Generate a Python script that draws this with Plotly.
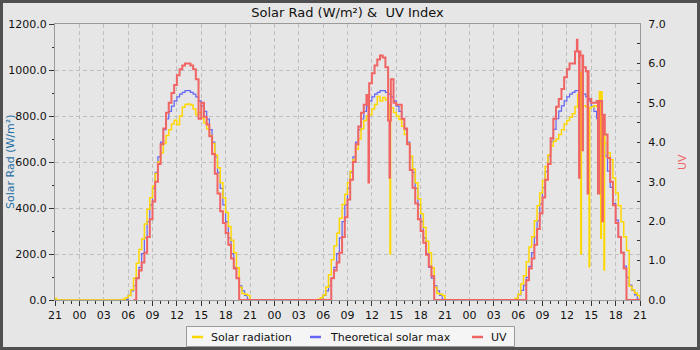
import plotly.graph_objects as go
import pandas as pd

# ---------------- data ----------------
RANGE_START = "2024-06-20 21:00"
RANGE_END = "2024-06-23 21:00"
DAYS = ["2024-06-21", "2024-06-22", "2024-06-23"]
STEP = "20min"
RAD_GRID_START = "05:20"   # first sample of each daylight list (solar + theoretical)
UV_GRID_START = "06:40"    # first sample of each UV list

THEO_DAY1 = [0, 3, 20, 40, 62, 95, 142, 202, 270, 341, 414, 485, 555, 622, 686, 741,
             787, 820, 843, 866, 883, 895, 903, 910, 910, 903, 895, 883, 866, 843, 820, 787,
             741, 686, 622, 555, 485, 414, 341, 270, 202, 142, 95, 62, 40, 20, 3, 0]
THEO_DAY2 = [0, 3, 20, 40, 62, 95, 142, 202, 270, 341, 414, 485, 555, 622, 686, 741,
             787, 820, 843, 866, 883, 895, 903, 910, 910, 903, 895, 883, 866, 843, 820, 787,
             741, 686, 622, 555, 485, 414, 341, 270, 202, 142, 95, 62, 40, 20, 3, 0]
THEO_DAY3 = [0, 4, 22, 42, 65, 98, 146, 206, 274, 345, 418, 489, 558, 625, 688, 742,
             788, 821, 844, 866, 883, 895, 903, 910, 910, 903, 895, 883, 866, 843, 820, 788,
             744, 690, 627, 560, 490, 419, 347, 276, 207, 147, 99, 65, 42, 22, 4, 0]

SOLAR_DAY1 = [3, 10, 20, 45, 95, 160, 220, 265, 330, 395, 445, 495, 550, 600, 640, 680,
              715, 740, 765, 782, 762, 800, 838, 850, 852, 848, 830, 805, 815, 790, 770, 745,
              715, 680, 630, 575, 510, 445, 380, 320, 260, 205, 140, 55, 28, 25, 20, 0]
SOLAR_DAY2 = [3, 10, 22, 55, 110, 175, 235, 290, 355, 415, 460, 510, 560, 610, 655, 700,
              745, 780, 800, 805, 830, 850, 885, 865, 880, 870, 850, 835, 815, 800, 785, 755,
              720, 680, 625, 570, 510, 440, 375, 315, 255, 205, 140, 55, 28, 25, 20, 0]
SOLAR_DAY3 = [0, 8, 25, 70, 105, 165, 230, 275, 345, 410, 465, 520, 580, 630, 670, 690,
              700, 720, 740, 765, 780, 795, 810, 840, 895, 990, 845, 840, 835, 840, 845, 840,
              905, 745, 680, 640, 610, 530, 465, 410, 340, 275, 215, 60, 45, 30, 20, 0]
SOLAR_LEAD = [("2024-06-20 21:00", 8), ("2024-06-20 21:10", 0)]
SOLAR_SPIKES = [("2024-06-22 14:14", 200), ("2024-06-23 13:43", 200),
                ("2024-06-23 14:44", 145), ("2024-06-23 16:10", 268),
                ("2024-06-23 16:34", 130)]

UV_DAY1 = [0, 0.55, 0.75, 0.95, 1.2, 1.6, 2.05, 2.5, 3.0, 3.45, 3.95, 4.35, 4.75, 5.0,
           5.25, 5.45, 5.7, 5.85, 5.95, 6.0, 6.0, 5.95, 5.85, 5.6, 4.6, 5.0, 4.65, 4.45,
           4.15, 3.7, 3.2, 2.7, 2.25, 1.95, 1.7, 1.4, 1.05, 0.8, 0.55, 0]
UV_DAY2 = [0, 0.55, 0.75, 0.95, 1.2, 1.6, 2.1, 2.55, 3.05, 3.5, 3.95, 4.4, 4.75, 4.95,
           5.2, 5.5, 5.75, 5.95, 6.1, 6.2, 6.15, 5.9, 4.55, 5.6, 5.0, 4.95, 4.95, 4.6,
           4.35, 3.95, 3.3, 2.85, 2.45, 2.05, 1.75, 1.45, 1.15, 0.85, 0.6, 0]
UV_DAY3 = [0, 0.5, 0.8, 1.05, 1.4, 1.8, 2.2, 2.6, 3.05, 3.45, 4.1, 4.6, 4.9, 5.1,
           5.35, 5.65, 5.85, 6.0, 6.0, 6.3, 6.3, 6.2, 5.9, 5.8, 5.1, 5.0, 5.0, 5.05,
           5.0, 4.7, 4.2, 3.6, 3.0, 2.4, 1.95, 1.6, 1.2, 0.8, 0, 0]
UV_SPIKES = [("2024-06-22 11:35", 2.98), ("2024-06-22 14:10", 3.1),
             ("2024-06-23 13:14", 6.6), ("2024-06-23 13:30", 3.1),
             ("2024-06-23 13:55", 3.8), ("2024-06-23 14:33", 2.7),
             ("2024-06-23 15:50", 2.7), ("2024-06-23 15:57", 2.7),
             ("2024-06-23 16:22", 2.0)]

SERIES_NAMES = ["Solar radiation", "Theoretical solar max", "UV"]
COLORS = {"Solar radiation": "#ffd700", "Theoretical solar max": "#6464f5", "UV": "#f06464"}


def build(day_lists, grid_start, lead=(), spikes=()):
    pts = {pd.Timestamp(t): v for t, v in lead}
    for d, vals in zip(DAYS, day_lists):
        times = pd.date_range(f"{d} {grid_start}", periods=len(vals), freq=STEP)
        for t, v in zip(times, vals):
            pts[t] = v
    pts.setdefault(pd.Timestamp(RANGE_END), 0)
    base = pd.Series(pts).sort_index()
    out = dict(base)
    for t, v in spikes:
        t = pd.Timestamp(t)
        held = base[base.index <= t].iloc[-1]
        out[t] = v
        out[t + pd.Timedelta(minutes=4)] = held
    return pd.Series(out).sort_index()


solar = build([SOLAR_DAY1, SOLAR_DAY2, SOLAR_DAY3], RAD_GRID_START, SOLAR_LEAD, SOLAR_SPIKES)
theo = build([THEO_DAY1, THEO_DAY2, THEO_DAY3], RAD_GRID_START, [(RANGE_START, 0)])
uv = build([UV_DAY1, UV_DAY2, UV_DAY3], UV_GRID_START, [], UV_SPIKES)

# ---------------- figure ----------------
L, R, T, B = 55, 60, 24, 50
W, H = 700 - L - R, 350 - T - B


def px(x):
    return (x - L) / W


def py(y):
    return (350 - B - y) / H


FONT = "DejaVu Sans"
GRID = "#bfbfbf"
AXLINE = "#9a9a9a"
TICKC = "#333333"

fig = go.Figure()
fig.add_trace(go.Scatter(x=uv.index, y=uv.values, yaxis="y2", mode="lines", name="UV",
                         line=dict(shape="hv", color=COLORS["UV"], width=2.0), hoverinfo="skip"))
fig.add_trace(go.Scatter(x=theo.index, y=theo.values, mode="lines", name="Theoretical solar max",
                         line=dict(shape="hv", color=COLORS["Theoretical solar max"], width=1.2),
                         hoverinfo="skip"))
fig.add_trace(go.Scatter(x=solar.index, y=solar.values, mode="lines", name="Solar radiation",
                         line=dict(shape="hv", color=COLORS["Solar radiation"], width=1.5),
                         hoverinfo="skip"))

fig.update_layout(
    width=700, height=350,
    margin=dict(l=L, r=R, t=T, b=B, autoexpand=False),
    paper_bgcolor="#e6e6e6", plot_bgcolor="#e6e6e6",
    showlegend=False,
    font=dict(family=FONT, size=11, color="#111111"),
    title=dict(text="Solar Rad (W/m²) &\u00a0 UV Index", x=0.5, xref="paper", xanchor="center",
               y=1 - 12 / 350, yref="container", yanchor="middle",
               font=dict(family=FONT, size=13, color="#111111")),
    xaxis=dict(type="date", range=[RANGE_START, RANGE_END], tickmode="linear",
               tick0=RANGE_START, dtick=3 * 3600 * 1000, tickformat="%H",
               ticks="outside", ticklen=5, tickcolor=TICKC, automargin=False,
               minor=dict(dtick=3600 * 1000, tick0=RANGE_START, ticks="outside", ticklen=3,
                          tickcolor=TICKC, showgrid=False),
               showgrid=True, gridcolor=GRID, griddash="4px,3px", gridwidth=1,
               showline=True, linecolor=AXLINE, mirror=True, zeroline=False,
               tickfont=dict(size=11, color="#111111")),
    yaxis=dict(range=[0, 1200], tickmode="linear", tick0=0, dtick=200, tickformat=".1f",
               ticks="outside", ticklen=5, tickcolor=TICKC, automargin=False,
               minor=dict(dtick=100, ticks="outside", ticklen=2, tickcolor=TICKC, showgrid=False),
               showgrid=True, gridcolor=GRID, griddash="4px,3px", gridwidth=1,
               showline=True, linecolor=AXLINE, mirror=True, zeroline=False,
               tickfont=dict(size=11, color="#111111")),
    yaxis2=dict(range=[0, 7], overlaying="y", side="right", tickmode="linear", tick0=0, dtick=1,
                tickformat=".1f", ticks="inside", ticklen=3, tickcolor=TICKC, automargin=False,
                minor=dict(dtick=0.5, ticks="inside", ticklen=3, tickcolor=TICKC, showgrid=False),
                showgrid=False, showline=True, linecolor=AXLINE, zeroline=False,
                ticklabelstandoff=5,
                tickfont=dict(size=11, color="#111111")),
)

# axis titles
fig.add_annotation(text="Solar Rad (W/m²)", x=px(10), y=py(162), xref="paper", yref="paper",
                   textangle=-90, showarrow=False, xanchor="center", yanchor="middle",
                   font=dict(family=FONT, size=11, color="#1f6fa3"))
fig.add_annotation(text="UV", x=px(682), y=py(162), xref="paper", yref="paper",
                   textangle=-90, showarrow=False, xanchor="center", yanchor="middle",
                   font=dict(family=FONT, size=11, color=COLORS["UV"]))

# custom legend
shapes = [
    dict(type="rect", xref="paper", yref="paper", x0=px(186.5), x1=px(514.5),
         y0=py(346.5), y1=py(326.5), fillcolor="#f5f5f5", line=dict(color="#9a9a9a", width=1),
         layer="above"),
]
legend_items = [(SERIES_NAMES[0], 192, 203, 209), (SERIES_NAMES[1], 310, 321, 328),
                (SERIES_NAMES[2], 472, 483, 489)]
for name, lx0, lx1, tx in legend_items:
    shapes.append(dict(type="line", xref="paper", yref="paper", x0=px(lx0), x1=px(lx1),
                       y0=py(337), y1=py(337), line=dict(color=COLORS[name], width=2.5),
                       layer="above"))
    fig.add_annotation(text=name, x=px(tx), y=py(337), xref="paper", yref="paper",
                       showarrow=False, xanchor="left", yanchor="middle",
                       font=dict(family=FONT, size=11, color="#111111"))

# outer dark frame
shapes.append(dict(type="rect", xref="paper", yref="paper", x0=px(1.5), x1=px(698.5),
                   y0=py(348.5), y1=py(1.5), line=dict(color="#505050", width=3),
                   fillcolor="rgba(0,0,0,0)", layer="above"))
fig.update_layout(shapes=shapes)

fig.write_html("out.html")
